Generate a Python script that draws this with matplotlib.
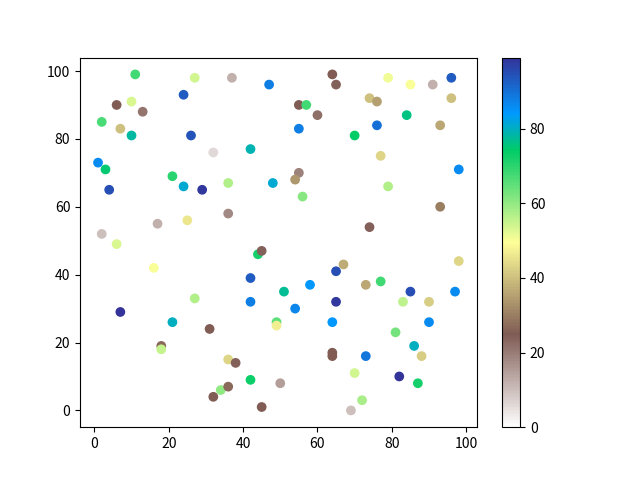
import matplotlib
matplotlib.use("Agg")
import matplotlib.pyplot as plt

plt.rcParams['font.family'] = ['Noto Sans CJK SC', 'DejaVu Sans']

# point data: x, y and colour value
x = [1, 3, 2, 4, 2, 6, 6, 7, 10, 10, 11, 13, 7, 16, 17, 18, 18, 21, 21, 24,
     24, 25, 26, 27, 27, 29, 31, 32, 32, 34, 36, 36, 36, 36, 37, 38, 42, 42, 42, 42,
     44, 45, 45, 47, 64, 65, 55, 57, 60, 55, 70, 79, 85, 91, 96, 74, 76, 96, 84, 76,
     93, 77, 98, 55, 54, 48, 56, 79, 93, 74, 67, 65, 98, 58, 51, 73, 77, 85, 97, 54,
     65, 83, 90, 49, 49, 64, 90, 81, 86, 88, 64, 64, 73, 70, 82, 87, 50, 72, 69]
y = [73, 71, 85, 65, 52, 49, 90, 83, 91, 81, 99, 88, 29, 42, 55, 19, 18, 69, 26, 93,
     66, 56, 81, 98, 33, 65, 24, 76, 4, 6, 67, 58, 15, 7, 98, 14, 77, 39, 32, 9,
     46, 47, 1, 96, 99, 96, 90, 90, 87, 83, 81, 98, 96, 96, 98, 92, 91, 92, 87, 84,
     84, 75, 71, 70, 68, 67, 63, 66, 60, 54, 43, 41, 44, 37, 35, 37, 38, 35, 35, 30,
     32, 32, 32, 26, 25, 26, 26, 23, 19, 16, 17, 16, 16, 11, 10, 8, 8, 3, 0]
c = [86, 75, 67, 95, 10, 53, 25, 40, 53, 78, 68, 21, 99, 50, 12, 27, 55, 70, 80, 93,
     81, 46, 94, 54, 57, 98, 25, 6, 25, 60, 57, 18, 43, 27, 12, 24, 79, 93, 88, 73,
     72, 24, 25, 88, 25, 24, 25, 68, 22, 88, 74, 51, 50, 12, 93, 40, 35, 40, 76, 90,
     36, 43, 86, 19, 34, 81, 61, 57, 30, 24, 37, 95, 43, 84, 77, 36, 68, 95, 86, 87,
     98, 56, 42, 65, 47, 84, 86, 63, 80, 42, 25, 25, 89, 54, 99, 72, 15, 58, 10]

fig, ax = plt.subplots(figsize=(6.4, 4.8), dpi=100)
sc = ax.scatter(x, y, c=c, cmap='terrain_r', vmin=0, vmax=99)
fig.colorbar(sc, ax=ax)

fig.savefig('out.png')
